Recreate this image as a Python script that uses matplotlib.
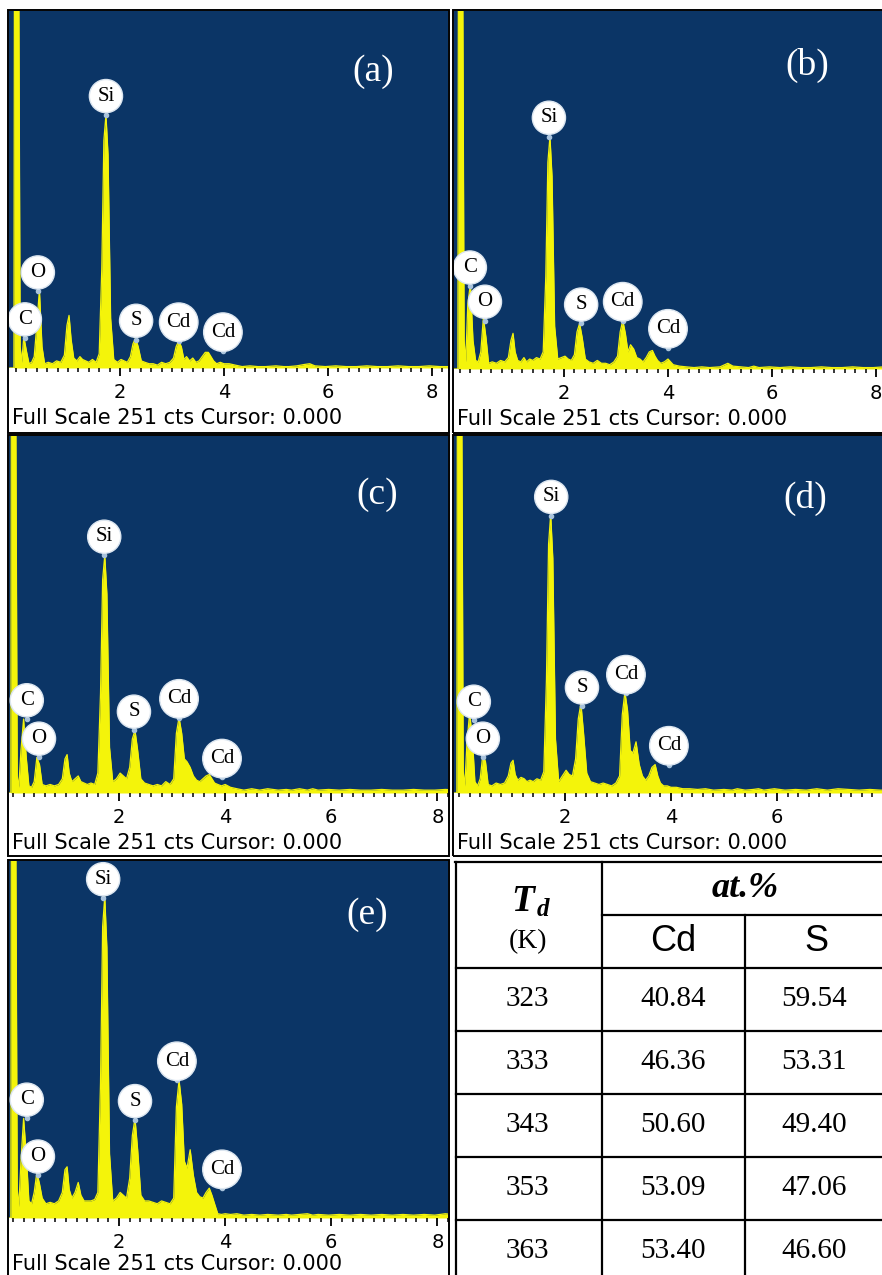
import matplotlib
matplotlib.use('Agg')
import matplotlib.pyplot as plt
from matplotlib.patches import Rectangle
from matplotlib.ticker import MultipleLocator, FixedLocator

W, H = 882, 1275

# energy grid (keV) shared by all five spectra
energy = [
    -0.12, -0.04, -0.03, 0.05, 0.08, 0.11, 0.15, 0.20, 0.25, 0.30,
    0.35, 0.40, 0.45, 0.50, 0.55, 0.62, 0.70, 0.78, 0.86, 0.93,
    0.98, 1.02, 1.06, 1.11, 1.17, 1.23, 1.28, 1.34, 1.40, 1.47,
    1.54, 1.60, 1.65, 1.69, 1.73, 1.77, 1.82, 1.88, 1.95, 2.02,
    2.08, 2.14, 2.20, 2.25, 2.30, 2.35, 2.41, 2.48, 2.56, 2.64,
    2.72, 2.80, 2.88, 2.96, 3.03, 3.08, 3.13, 3.18, 3.23, 3.28,
    3.34, 3.40, 3.46, 3.52, 3.58, 3.64, 3.70, 3.75, 3.80, 3.86,
    3.93, 4.00, 4.10, 4.22, 4.35, 4.50, 4.65, 4.80, 5.00, 5.15,
    5.25, 5.40, 5.55, 5.65, 5.75, 5.95, 6.15, 6.35, 6.55, 6.75,
    6.95, 7.15, 7.35, 7.55, 7.75, 7.95, 8.15, 8.40,
]

counts_a = [
    0, 0, 300, 300, 15, 4, 22, 12, 3, 4,
    8, 30, 55, 15, 3, 4, 3, 5, 4, 9,
    30, 37, 20, 7, 5, 8, 6, 5, 4, 6,
    4, 10, 70, 160, 178, 150, 35, 6, 4, 6,
    5, 4, 8, 17, 21, 15, 5, 4, 3, 3,
    2, 4, 3, 4, 7, 15, 19, 15, 6, 8,
    5, 7, 4, 5, 8, 11, 11, 8, 5, 3,
    4, 3, 3, 2, 1, 1.5, 1, 1, 1.5, 1,
    1, 1.5, 2.5, 3, 1.5, 1, 1.5, 1, 1, 1.5,
    1, 1, 1.5, 1, 1, 1.5, 1, 1,
]
counts_b = [
    0, 0, 300, 300, 20, 5, 45, 60, 20, 6,
    5, 12, 36, 22, 4, 5, 4, 6, 5, 8,
    20, 25, 12, 6, 5, 8, 5, 7, 6, 8,
    7, 12, 65, 145, 163, 135, 30, 7, 8, 9,
    7, 6, 10, 26, 32, 22, 7, 5, 4, 6,
    4, 4, 3, 5, 9, 26, 34, 25, 12, 17,
    14, 8, 7, 5, 8, 12, 13, 9, 6, 4,
    5, 7, 3, 2, 1.5, 1, 1.5, 1, 1.5, 4,
    2, 1.5, 1, 2, 1, 1.5, 1, 1.5, 1, 1,
    1.5, 1, 1, 1.5, 1, 1, 1.5, 1,
]
counts_c = [
    0, 0, 300, 300, 12, 4, 30, 52, 25, 5,
    4, 8, 25, 20, 6, 5, 6, 5, 6, 10,
    24, 27, 14, 8, 10, 12, 8, 7, 6, 7,
    6, 14, 70, 150, 167, 140, 32, 8, 10, 14,
    12, 10, 18, 38, 44, 30, 10, 7, 6, 5,
    6, 5, 8, 6, 10, 42, 53, 42, 24, 22,
    18, 12, 9, 8, 10, 12, 13, 10, 7, 6,
    5, 6, 4, 3, 2, 3, 2, 3, 2, 2.5,
    2, 3, 2, 3, 2, 2.5, 2, 2.5, 2, 2,
    2.5, 2, 2, 2.5, 2, 2, 2.5, 2,
]
counts_d = [
    0, 0, 300, 300, 15, 5, 35, 56, 40, 8,
    5, 10, 27, 22, 6, 5, 7, 6, 7, 12,
    21, 23, 13, 9, 11, 10, 8, 9, 8, 10,
    9, 15, 80, 175, 196, 165, 38, 8, 12, 16,
    13, 12, 24, 52, 63, 42, 14, 8, 7, 6,
    7, 6, 5, 7, 12, 55, 71, 58, 30, 28,
    36, 20, 12, 9, 12, 18, 20, 12, 7, 5,
    5, 4, 4, 3, 3, 2.5, 3, 2, 2.5, 2,
    3, 2, 2.5, 3, 2, 3, 2, 2.5, 2, 3,
    2, 3, 2.5, 2, 2.5, 2, 2, 2,
]
counts_e = [
    0, 0, 300, 300, 20, 8, 40, 70, 45, 12,
    10, 18, 32, 24, 14, 10, 11, 10, 12, 18,
    34, 36, 20, 14, 18, 25, 16, 12, 12, 12,
    13, 18, 95, 205, 226, 190, 45, 12, 14, 18,
    16, 14, 28, 58, 70, 48, 16, 12, 12, 11,
    10, 12, 11, 10, 14, 78, 97, 80, 40, 35,
    48, 30, 18, 15, 14, 18, 21, 16, 10, 3,
    2.5, 3, 2.5, 3, 2, 2.5, 2, 2.5, 2, 2.5,
    2, 2.5, 3, 2, 2.5, 2, 2.5, 2, 2.5, 2,
    2.5, 2, 2.5, 2, 2.5, 2, 3, 2,
]

# element markers: (element, energy keV, counts)
peaks_a = [("C", 0.17, 21), ("O", 0.42, 54), ("Si", 1.73, 178),
           ("S", 2.31, 20), ("Cd", 3.13, 19), ("Cd", 3.98, 12)]
peaks_b = [("C", 0.19, 58), ("O", 0.48, 34), ("Si", 1.71, 163),
           ("S", 2.33, 32), ("Cd", 3.13, 34), ("Cd", 4.00, 15)]
peaks_c = [("C", 0.26, 52), ("O", 0.49, 25), ("Si", 1.72, 167),
           ("S", 2.28, 44), ("Cd", 3.13, 53), ("Cd", 3.94, 11)]
peaks_d = [("C", 0.28, 51), ("O", 0.45, 25), ("Si", 1.74, 195),
           ("S", 2.32, 61), ("Cd", 3.15, 70), ("Cd", 3.96, 20)]
peaks_e = [("C", 0.26, 70), ("O", 0.47, 30), ("Si", 1.70, 225),
           ("S", 2.30, 69), ("Cd", 3.09, 97), ("Cd", 3.94, 21)]

tags = ["(a)", "(b)", "(c)", "(d)", "(e)"]
footer = "Full Scale 251 cts Cursor: 0.000"

# composition table
temps = [323, 333, 343, 353, 363]
cd_at = [40.84, 46.36, 50.60, 53.09, 53.40]
s_at = [59.54, 53.31, 49.40, 47.06, 46.60]

BLUE = '#0b3566'
YELLOW = '#f4f40a'
SERIF = 'Liberation Serif'

fig = plt.figure(figsize=(W / 100, H / 100), dpi=100)


def px_axes(x0, y0, x1, y1):
    return fig.add_axes([x0 / W, 1 - y1 / H, (x1 - x0) / W, (y1 - y0) / H])


def frame(x0, y0, x1, y1):
    fig.add_artist(Rectangle((x0 / W, 1 - y1 / H), (x1 - x0) / W, (y1 - y0) / H,
                             transform=fig.transFigure, fill=False,
                             ec='black', lw=1.4, zorder=5))


def spectrum(box, axbox, xlim, counts, peaks, tag, tag_xy, foot_dy=50):
    ax = px_axes(*axbox)
    ax.set_facecolor(BLUE)
    ax.fill_between(energy, counts, 0, color=YELLOW, lw=0)
    ax.plot(energy, counts, color=YELLOW, lw=0.9)
    ax.set_xlim(*xlim)
    ax.set_ylim(0, 251)
    ax.set_yticks([])
    ax.xaxis.set_major_locator(FixedLocator([2, 4, 6, 8]))
    ax.xaxis.set_minor_locator(MultipleLocator(0.2))
    ax.tick_params(axis='x', which='major', direction='out', length=6,
                   width=1.3, pad=5, labelsize=14)
    ax.tick_params(axis='x', which='minor', direction='out', length=3, width=1.1)
    for sp in ax.spines.values():
        sp.set_visible(False)

    for name, e, c in peaks:
        ax.plot(e, c, 'o', ms=3, color='#a9c3dc', zorder=3)
        ax.annotate(name, (e, c), xytext=(0, 13.5), textcoords='offset points',
                    ha='center', va='center', fontsize=15, family=SERIF,
                    bbox=dict(boxstyle='circle,pad=0.34', fc='white', ec='#dce6f0'),
                    annotation_clip=False, zorder=4)

    fig.text(tag_xy[0] / W, 1 - tag_xy[1] / H, tag, color='white',
             fontsize=27, family=SERIF, ha='center', va='center')
    fig.text((axbox[0] + 3) / W, 1 - (axbox[3] + foot_dy) / H, footer,
             fontsize=15, family='DejaVu Sans', ha='left', va='center')
    frame(*box)


spectrum((8, 10, 449, 433), (9, 11, 448, 368), (-0.135, 8.31),
         counts_a, peaks_a, tags[0], (373, 72))
spectrum((453, 10, 886, 433), (454, 11, 882, 369), (-0.115, 8.115),
         counts_b, peaks_b, tags[1], (807, 65))
spectrum((8, 435, 449, 856), (9, 436, 448, 793), (-0.075, 8.2),
         counts_c, peaks_c, tags[2], (377, 495))
spectrum((453, 435, 886, 856), (454, 436, 882, 793), (-0.094, 7.98),
         counts_d, peaks_d, tags[3], (805, 498))
spectrum((8, 860, 449, 1280), (9, 861, 448, 1218), (-0.075, 8.2),
         counts_e, peaks_e, tags[4], (367, 915), foot_dy=46)

# table drawn in pixel units
tab = px_axes(450, 855, 882, 1275)
tab.set_xlim(450, 882)
tab.set_ylim(1275, 855)
tab.axis('off')

lw = 1.6
row_top = 968
row_h = 63
tab.plot([455, 882], [862, 862], color='black', lw=lw)
tab.plot([456, 456], [862, 1275], color='black', lw=lw)
tab.plot([602, 602], [862, 1275], color='black', lw=lw)
tab.plot([745, 745], [915, 1275], color='black', lw=lw)
tab.plot([602, 882], [915, 915], color='black', lw=lw)
for i in range(len(temps)):
    y = row_top + i * row_h
    tab.plot([456, 882], [y, y], color='black', lw=lw)

tab.text(523, 902, "T", fontsize=27, family=SERIF, weight='bold',
         style='italic', ha='center', va='center')
tab.text(543, 910, "d", fontsize=18, family=SERIF, weight='bold',
         style='italic', ha='center', va='center')
tab.text(528, 942, "(K)", fontsize=20, family=SERIF, ha='center', va='center')
tab.text(745, 889, "at.%", fontsize=26, family=SERIF, weight='bold',
         style='italic', ha='center', va='center')
tab.text(673, 942, "Cd", fontsize=26, family='Liberation Sans',
         ha='center', va='center')
tab.text(816, 942, "S", fontsize=26, family='Liberation Sans',
         ha='center', va='center')

for i, (t, cd, s) in enumerate(zip(temps, cd_at, s_at)):
    y = row_top + i * row_h + row_h / 2
    tab.text(527, y, f"{t}", fontsize=21, family=SERIF, ha='center', va='center')
    tab.text(673, y, f"{cd:.2f}", fontsize=21, family=SERIF, ha='center', va='center')
    tab.text(814, y, f"{s:.2f}", fontsize=21, family=SERIF, ha='center', va='center')

fig.savefig('out.png', dpi=100)
